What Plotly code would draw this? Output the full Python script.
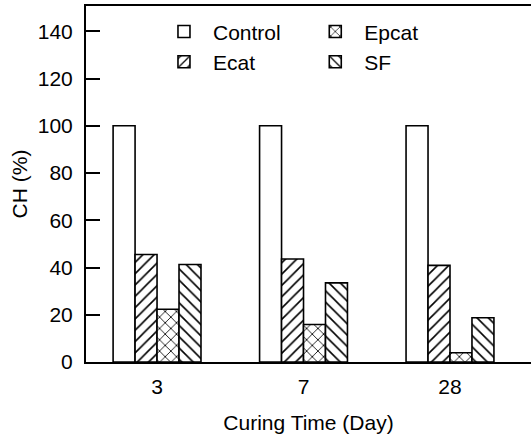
import plotly.graph_objects as go

days = ["3", "7", "28"]
series = ["Control", "Ecat", "Epcat", "SF"]
control = [100, 100, 100]
ecat = [45.5, 43.6, 40.9]
epcat = [22.3, 15.9, 3.9]
sf = [41.3, 33.5, 18.7]
yticks = [0, 20, 40, 60, 80, 100, 120, 140]

values = [control, ecat, epcat, sf]
shapes = ["", "/", "x", "\\"]
legends = ["legend", "legend", "legend2", "legend2"]

FONT = "Arial, Liberation Sans, sans-serif"

fig = go.Figure()
for name, vals, sh, lg in zip(series, values, shapes, legends):
    fig.add_trace(go.Bar(
        x=days, y=vals, name=name, legend=lg,
        marker=dict(color="white", line=dict(color="black", width=1.6),
                    pattern=dict(shape=sh, fgcolor="black", bgcolor="white",
                                 fgopacity=1, size=8, solidity=0.2,
                                 fillmode="overlay")),
    ))

fig.update_layout(
    width=531, height=442,
    margin=dict(l=86, r=0, t=6, b=80),
    paper_bgcolor="white", plot_bgcolor="white",
    font=dict(family=FONT, size=21, color="black"),
    barmode="group", bargap=0.4, bargroupgap=0,
    legend=dict(x=0.155, y=0.985, xanchor="left", yanchor="top",
                bgcolor="rgba(0,0,0,0)", font=dict(size=21), itemwidth=48,
                tracegroupgap=0),
    legend2=dict(x=0.495, y=0.985, xanchor="left", yanchor="top",
                 bgcolor="rgba(0,0,0,0)", font=dict(size=21), itemwidth=48,
                 tracegroupgap=0),
)
fig.update_xaxes(
    type="category", range=[-0.485, 2.553],
    showline=True, linecolor="black", linewidth=2, mirror=True,
    ticks="", showgrid=False, ticklabelstandoff=5, tickfont=dict(size=21),
    title=dict(text="Curing Time (Day)", standoff=18, font=dict(size=21)),
)
fig.update_yaxes(
    range=[0, 150.7], tickvals=yticks,
    showline=True, linecolor="black", linewidth=2, mirror=False,
    ticks="inside", ticklen=14, tickwidth=2, tickcolor="black",
    showgrid=False, zeroline=False, ticklabelstandoff=7, tickfont=dict(size=21),
    title=dict(text="CH (%)", standoff=4, font=dict(size=21)),
)
fig.write_html("out.html")
